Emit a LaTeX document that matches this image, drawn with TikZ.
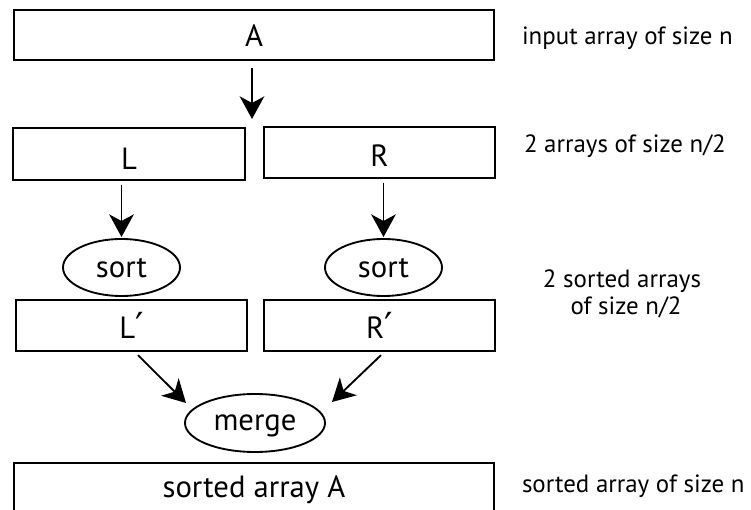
\documentclass[tikz,border=0pt]{standalone}
\usepackage{fontspec}
\setmainfont{PT Sans}
\newfontfamily\primefont{DejaVu Sans}
\newcommand{\prm}{{\primefont\fontsize{28}{30}\selectfont\raisebox{-1pt}{′}}}
\usetikzlibrary{arrows.meta,calc,shapes.geometric}
\begin{document}
\begin{tikzpicture}[x=0.75pt,y=-0.75pt,
  every node/.style={inner sep=0pt,outer sep=0pt},
  arraybox/.style={draw,line width=1.4pt,rectangle,
    font=\fontsize{23}{27}\selectfont,text height=18pt,text depth=0pt},
  wide/.style={minimum width=360pt,minimum height=37.5pt},
  half/.style={minimum width=173.5pt,minimum height=38.5pt},
  oper/.style={draw,line width=1.4pt,ellipse,
    font=\fontsize{23}{27}\selectfont,text depth=0pt},
  note/.style={anchor=base west,font=\fontsize{18.7}{22}\selectfont},
  arr/.style={line width=1.4pt,-{Stealth[length=17pt,width=18.5pt,inset=5pt]}}
]
\useasboundingbox (0,0) rectangle (751,510);

% arrays
\node[arraybox,wide] (A) at (254,35) {A};
\node[arraybox,half,text height=24pt] (L) at (129,154) {L};
\node[arraybox,half,text height=21.75pt] (R) at (379.5,152.5) {R};
\node[arraybox,half,text height=18.75pt] (Lp) at (131.5,325.5) {L\prm};
\node[arraybox,half,text height=18.75pt] (Rp) at (379.5,325.5) {R\prm};
\node[arraybox,wide,text height=13.5pt] (S) at (254,488) {sorted array A};

% operations
\node[oper,minimum width=87.75pt,minimum height=42.75pt,text height=14.25pt]
  (sortL) at (121.5,267.5) {sort};
\node[oper,minimum width=87.75pt,minimum height=42.75pt,text height=14.25pt]
  (sortR) at (383.5,267.5) {sort};
\node[oper,minimum width=105pt,minimum height=43.5pt,text height=10.5pt]
  (merge) at (255,423) {merge};

% connectors
\coordinate (split) at (252,119);
\draw[arr] ($(A.south -| split)+(0,8)$) -- (split);
\draw[arr] ($(sortL.north |- L.south)+(0,5)$) -- ($(sortL.north)+(0,-2)$);
\draw[arr] ($(sortR.north |- R.south)+(0,5)$) -- ($(sortR.north)+(0,-2)$);
\coordinate (inL) at ($(merge.center)+(-69,-20)$);
\coordinate (inR) at ($(merge.center)+(77,-21)$);
\draw[arr] ($(Lp.south)+(6.5,4)$) -- (inL);
\draw[arr] ($(Rp.south)+(1.5,4)$) -- (inR);

% annotations
\node[note] (n1) at (522,45) {input array of size n};
\node[note] (n2) at (524,152) {2 arrays of size n/2};
\node[note,anchor=base,align=center] (n3) at (622,315)
  {2 sorted arrays\\[-1.5pt]\hspace*{6pt}of size n/2};
\node[note] (n4) at (522,492) {sorted array of size n};
\end{tikzpicture}
\end{document}
